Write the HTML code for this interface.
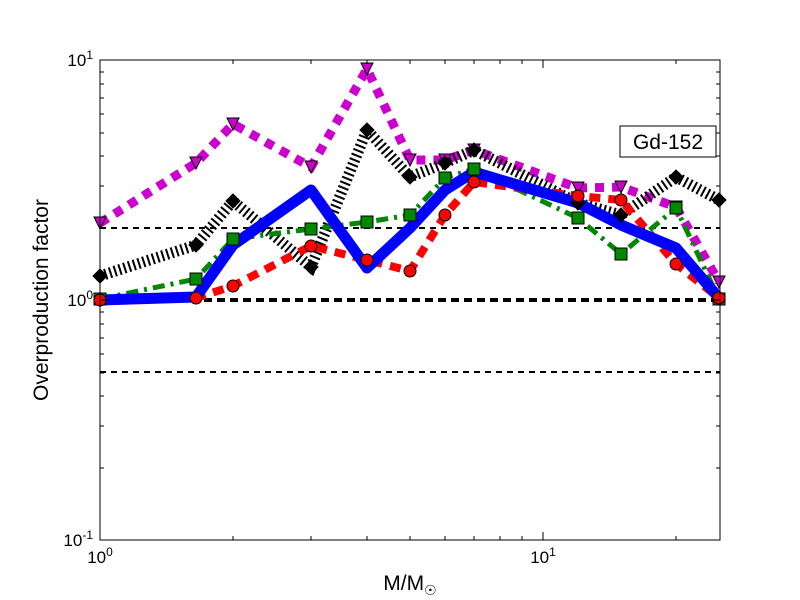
<!DOCTYPE html>
<html><head><style>body{margin:0;background:#fff}svg{display:block}</style></head><body>
<svg width="800" height="600" xmlns="http://www.w3.org/2000/svg" font-family="Liberation Sans, DejaVu Sans, sans-serif">
<rect width="800" height="600" fill="#fff"/>
<defs><clipPath id="c"><rect x="100" y="60" width="620" height="480"/></clipPath></defs>
<g clip-path="url(#c)" fill="none">
<line x1="100" y1="228" x2="720" y2="228" stroke="#000" stroke-width="2" stroke-dasharray="6,5"/>
<line x1="100" y1="300" x2="720" y2="300" stroke="#000" stroke-width="4" stroke-dasharray="8,5"/>
<line x1="100" y1="372" x2="720" y2="372" stroke="#000" stroke-width="2" stroke-dasharray="6,5"/>
<polyline stroke="#c0c" stroke-width="9" stroke-dasharray="9,8" points="100,223 196,163 233,124 311,167 367,69 410,160 445,160 474,150 578,188 621,187 676,207 719,282"/>
<polyline stroke="#000" stroke-width="11" stroke-dasharray="2,3" points="100,276 196,245 233,201 311,267 367,130 410,177 445,163 474,150 578,203 621,215 676,177 719,200"/>
<polyline stroke="#080" stroke-width="5" stroke-dasharray="12,6,3,6" points="100,299 196,279 233,239 311,229 367,222 410,215 445,178 474,169 578,218 621,254 676,208 719,299"/>
<polyline stroke="#f00" stroke-width="8" stroke-dasharray="11,8" points="100,300 196,298 233,286 311,246 367,260 410,271 445,215 474,182 578,196 621,200 676,264 719,298"/>
<polyline stroke="#00f" stroke-width="11" stroke-linejoin="round" points="100,300 196,297 233,245 311,190 367,268 410,228 445,190 474,172 578,203 621,225 676,248 719,298"/>
</g>
<g stroke="#000" stroke-width="1">
<g fill="#c0c">
<path d="M94,217h12l-6,12z M190,157h12l-6,12z M227,118h12l-6,12z M305,161h12l-6,12z M361,63h12l-6,12z M404,154h12l-6,12z M439,154h12l-6,12z M468,144h12l-6,12z M572,182h12l-6,12z M615,181h12l-6,12z M670,201h12l-6,12z M713,276h12l-6,12z"/>
</g>
<g fill="#000">
<path d="M100,269l7,7l-7,7l-7,-7z M196,238l7,7l-7,7l-7,-7z M233,194l7,7l-7,7l-7,-7z M311,260l7,7l-7,7l-7,-7z M367,123l7,7l-7,7l-7,-7z M410,170l7,7l-7,7l-7,-7z M445,156l7,7l-7,7l-7,-7z M474,143l7,7l-7,7l-7,-7z M578,196l7,7l-7,7l-7,-7z M621,208l7,7l-7,7l-7,-7z M676,170l7,7l-7,7l-7,-7z M719,193l7,7l-7,7l-7,-7z"/>
</g>
<g fill="#080">
<rect x="94" y="293" width="12" height="12"/><rect x="190" y="273" width="12" height="12"/><rect x="227" y="233" width="12" height="12"/><rect x="305" y="223" width="12" height="12"/><rect x="361" y="216" width="12" height="12"/><rect x="404" y="209" width="12" height="12"/><rect x="439" y="172" width="12" height="12"/><rect x="468" y="163" width="12" height="12"/><rect x="572" y="212" width="12" height="12"/><rect x="615" y="248" width="12" height="12"/><rect x="670" y="202" width="12" height="12"/><rect x="713" y="293" width="12" height="12"/>
</g>
<g fill="#f00">
<circle cx="100" cy="300" r="6"/><circle cx="196" cy="298" r="6"/><circle cx="233" cy="286" r="6"/><circle cx="311" cy="246" r="6"/><circle cx="367" cy="260" r="6"/><circle cx="410" cy="271" r="6"/><circle cx="445" cy="215" r="6"/><circle cx="474" cy="182" r="6"/><circle cx="578" cy="196" r="6"/><circle cx="621" cy="200" r="6"/><circle cx="676" cy="264" r="6"/><circle cx="719" cy="298" r="6"/>
</g>
</g>
<rect x="100" y="60" width="620" height="480" fill="none" stroke="#000" stroke-width="1"/>
<g stroke="#000" stroke-width="1">
<path d="M543,540v-8M543,60v8M100,300h8M720,300h-8"/>
<path d="M233,540v-4M311,540v-4M367,540v-4M410,540v-4M445,540v-4M474,540v-4M500,540v-4M522,540v-4M676,540v-4M233,60v4M311,60v4M367,60v4M410,60v4M445,60v4M474,60v4M500,60v4M522,60v4M676,60v4"/>
<path d="M100,468h4M100,426h4M100,396h4M100,373h4M100,354h4M100,338h4M100,324h4M100,312h4M100,228h4M100,186h4M100,156h4M100,133h4M100,114h4M100,98h4M100,84h4M100,72h4M720,468h-4M720,426h-4M720,396h-4M720,373h-4M720,354h-4M720,338h-4M720,324h-4M720,312h-4M720,228h-4M720,186h-4M720,156h-4M720,133h-4M720,114h-4M720,98h-4M720,84h-4M720,72h-4"/>
</g>
<g font-size="17" fill="#000">
<text x="100" y="563" text-anchor="middle">10<tspan font-size="12" dy="-7">0</tspan></text>
<text x="543" y="563" text-anchor="middle">10<tspan font-size="12" dy="-7">1</tspan></text>
<text x="93" y="66" text-anchor="end">10<tspan font-size="12" dy="-7">1</tspan></text>
<text x="93" y="306" text-anchor="end">10<tspan font-size="12" dy="-7">0</tspan></text>
<text x="93" y="546" text-anchor="end">10<tspan font-size="12" dy="-7">-1</tspan></text>
</g>
<text x="410" y="590" font-size="21" text-anchor="middle">M/M<tspan font-size="14" dy="5">☉</tspan></text>
<text transform="translate(48,300) rotate(-90)" font-size="21" text-anchor="middle">Overproduction factor</text>
<rect x="620" y="126" width="96" height="31" fill="#fff" stroke="#000" stroke-width="1"/>
<text x="668" y="149" font-size="21" text-anchor="middle">Gd-152</text>
</svg>
</body></html>
